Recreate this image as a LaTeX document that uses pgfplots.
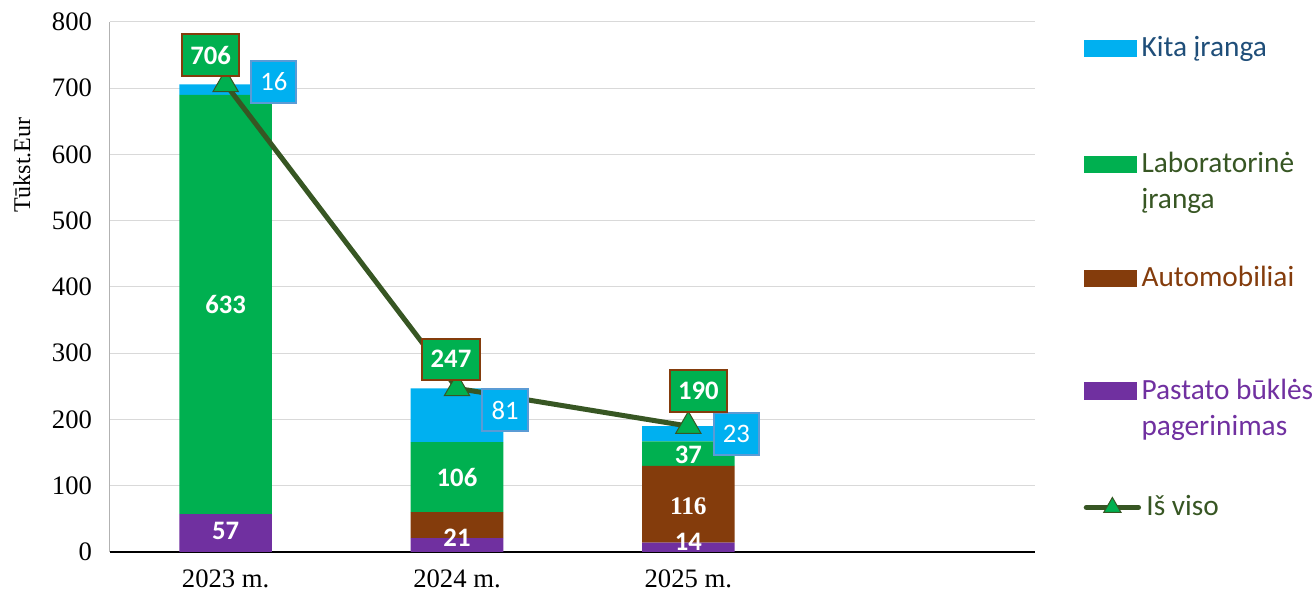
\documentclass[border=0pt]{standalone}
\usepackage{pgfplots}
\pgfplotsset{compat=1.18}
\usepackage{fontspec}
\setmainfont{Liberation Serif}
\newfontfamily\calibri{Carlito}
\definecolor{kita}{HTML}{00B0F0}
\definecolor{lab}{HTML}{00B050}
\definecolor{autoc}{HTML}{843C0C}
\definecolor{pastato}{HTML}{7030A0}
\definecolor{linec}{HTML}{375623}
\definecolor{kitatxt}{HTML}{1F4E79}
\definecolor{kitaedge}{HTML}{5B9BD5}
\definecolor{gridc}{HTML}{D9D9D9}
\newcommand\legtext[2]{\color{#1}\begin{tabular}[t]{@{}l@{}}\rule{0pt}{18pt}#2\end{tabular}}
\pgfplotsset{
  common/.style={
    scale only axis, width=694pt, height=397.5pt,
    xmin=-0.5, xmax=3.5, ymin=0, ymax=800,
    at={(82.5pt,30.75pt)}, anchor=south west,
  },
  legaxis/.style={common, hide axis,
    legend style={at={(1.052,#1)}, anchor=north west, draw=none, fill=none,
      cells={anchor=base west}, column sep=4pt, inner sep=0pt,
      nodes={inner sep=0pt},
      font=\calibri\fontsize{22}{27}\selectfont}},
  barlab/.style={forget plot, draw=none, mark=none, nodes near coords, point meta=explicit symbolic,
    nodes near coords style={anchor=center, text=white, inner sep=0pt, font=\calibri\bfseries\fontsize{20}{24}\selectfont}},
  boxleg/.style={legend image code/.code={\fill[##1] (0pt,0pt) rectangle (39pt,12.5pt);}},
  lineleg/.style={legend image code/.code={\draw[mark repeat=2,mark phase=2,##1,line width=4pt,line cap=round,mark size=7.5pt] plot coordinates {(0pt,6pt) (19.5pt,6pt) (39pt,6pt)};}},
}
\begin{document}
\begin{tikzpicture}
\useasboundingbox (0,0) rectangle (986.25pt,444.75pt);
\begin{axis}[common,
  ybar stacked, bar width=0.4,
  axis x line*=bottom, axis y line*=left,
  x axis line style={black, line width=1.1pt, -},
  y axis line style={gray!60, line width=0.75pt, -},
  ymajorgrids, grid style={gridc, line width=0.75pt},
  ytick={0,100,...,800},
  xtick={0,1,2}, xticklabels={2023 m.,2024 m.,2025 m.},
  major tick length=0pt,
  /pgf/number format/assume math mode=true,
  tick label style={font=\fontsize{20}{24}\selectfont},
  yticklabel style={xshift=-10pt},
  xticklabel style={yshift=-10pt},
  ylabel={Tūkst.Eur},
  every axis y label/.style={at={(rel axis cs:-0.095,0.73)}, rotate=90, anchor=center, font=\fontsize{18}{22}\selectfont},
]
\addplot[fill=pastato, draw=none] coordinates {(0,57) (1,21) (2,14)};
\addplot[fill=autoc, draw=none] coordinates {(0,0) (1,39) (2,116)};
\addplot[fill=lab, draw=none] coordinates {(0,633) (1,106) (2,37)};
\addplot[fill=kita, draw=none] coordinates {(0,16) (1,81) (2,23)};
\end{axis}
\begin{axis}[legaxis=0.117, clip=false]
\addplot[linec, line width=3.75pt, mark=triangle*, mark size=11pt,
  mark options={fill=lab, draw=linec, line width=0.75pt}, lineleg]
  coordinates {(0,706) (1,247) (2,190)};
\addlegendentry{\legtext{linec}{Iš viso}}
% labels inside bars
\addplot[barlab] table[meta=t] {
x y t
0 31.7 57
0 373 633
1 21 21
1 112 106
2 146 37
2 15 14
};
\addplot[barlab, nodes near coords style={font=\bfseries\fontsize{19}{23}\selectfont}] table[meta=t] {
x y t
2 69.4 116
};
% kita labels
\addplot[barlab, nodes near coords style={fill=kita, draw=kitaedge, line width=1.5pt, font=\calibri\fontsize{20}{24}\selectfont, minimum width=34pt, minimum height=31.5pt}] table[meta=t] {
x y t
0.208 710 16
1.208 214 81
2.208 178 23
};
% total labels
\addplot[barlab, nodes near coords style={fill=lab, draw=autoc, line width=1.5pt, minimum width=43pt, minimum height=31pt}] table[meta=t] {
x y t
-0.065 750 706
0.974 291 247
2.043 243 190
};
\end{axis}
\begin{axis}[legaxis=0.983]
\addlegendimage{boxleg, kita}
\addlegendentry{\legtext{kitatxt}{Kita įranga}}
\end{axis}
\begin{axis}[legaxis=0.764]
\addlegendimage{boxleg, lab}
\addlegendentry{\legtext{linec}{Laboratorinė\\įranga}}
\end{axis}
\begin{axis}[legaxis=0.549]
\addlegendimage{boxleg, autoc}
\addlegendentry{\legtext{autoc}{Automobiliai}}
\end{axis}
\begin{axis}[legaxis=0.336]
\addlegendimage{boxleg, pastato}
\addlegendentry{\legtext{pastato}{Pastato būklės\\pagerinimas}}
\end{axis}
\end{tikzpicture}
\end{document}
